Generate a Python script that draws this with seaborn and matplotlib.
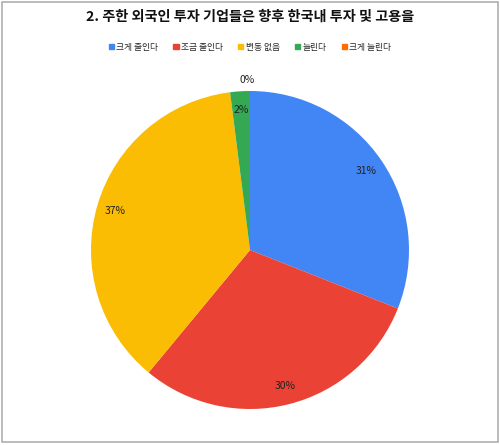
import numpy as np
import matplotlib
matplotlib.use("Agg")
import matplotlib.pyplot as plt
import seaborn as sns
from matplotlib.patches import Rectangle

# ------------------------------------------------------
# Data
# ------------------------------------------------------
TITLE = "2. 주한 외국인 투자 기업들은 향후 한국내 투자 및 고용을"
categories = ["크게 줄인다", "조금 줄인다", "변동 없음", "늘린다", "크게 늘린다"]
shares = [31, 30, 37, 2, 0]
colors = ["#4285F4", "#EA4335", "#FBBC04", "#34A853", "#FF6D01"]

# ------------------------------------------------------
# Style
# ------------------------------------------------------
sns.set_theme(style="white")
plt.rcParams["font.family"] = ["Noto Sans CJK KR", "DejaVu Sans"]

fig = plt.figure(figsize=(5.0, 4.45), dpi=100)
fig.patch.set_facecolor("white")

# frame around the whole chart
fig.add_artist(Rectangle((0.003, 0.006), 0.993, 0.99, transform=fig.transFigure,
                         fill=False, edgecolor="#b0b0b0", linewidth=1.2))

# pie axes: centre ~ (250, 250) px, radius ~159 px
ax = fig.add_axes([91 / 500, (445 - 409) / 445, 318 / 500, 318 / 445])

wedges, texts, autotexts = ax.pie(
    shares,
    colors=colors,
    startangle=90,
    counterclock=False,
    autopct=lambda p: f"{p:.0f}%",
    pctdistance=0.88,
    radius=1.0,
    wedgeprops=dict(linewidth=0),
    textprops=dict(fontsize=7.5, color="#222222"),
)
ax.set_xlim(-1, 1)
ax.set_ylim(-1, 1)
ax.set_aspect("equal")
ax.axis("off")

# zero slice label sits just outside the rim
for w, t, v in zip(wedges, autotexts, shares):
    if v == 0:
        ang = np.deg2rad((w.theta1 + w.theta2) / 2)
        t.set_position((1.07 * np.cos(ang) - 0.02, 1.07 * np.sin(ang)))

fig.text(0.5, 0.962, TITLE, ha="center", va="center",
         fontsize=10.2, fontweight="bold", color="#111111")

handles = [Rectangle((0, 0), 1, 1, color=c) for c in colors]
fig.legend(handles, categories, loc="center", bbox_to_anchor=(0.5, 0.894),
           ncol=5, frameon=False, fontsize=6.3, handlelength=0.6, handleheight=0.6,
           handletextpad=0.3, columnspacing=1.7)

fig.savefig("out.png", dpi=100, facecolor="white")
